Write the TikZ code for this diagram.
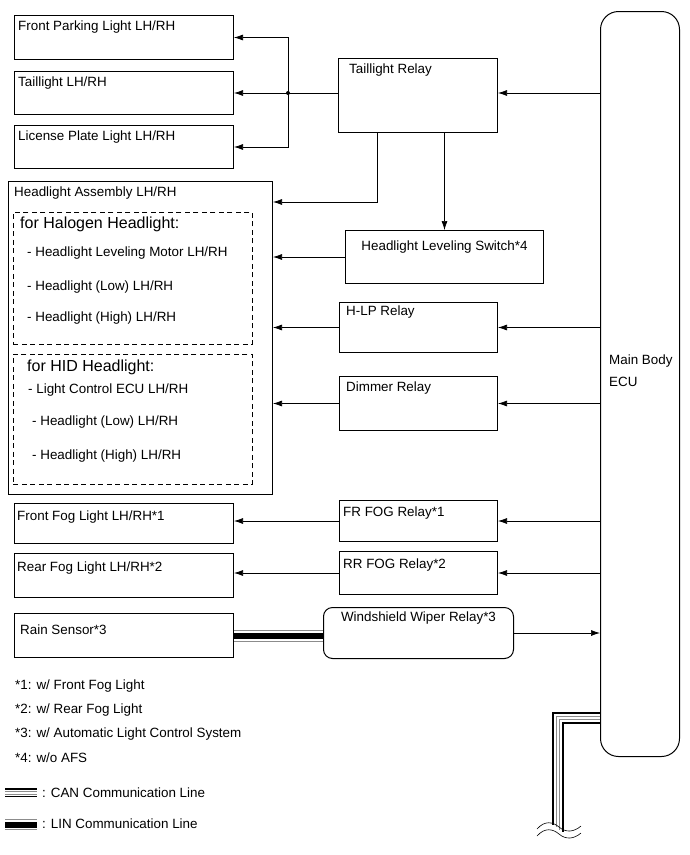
\documentclass[tikz,border=0pt]{standalone}
\usepackage{fontspec}
\setmainfont{Liberation Sans}
\usetikzlibrary{arrows.meta, positioning, calc}

\begin{document}
\begin{tikzpicture}[x=1pt, y=-1pt,
    unit/.style={draw, line width=1pt, anchor=north west, inner sep=0pt},
    grp/.style={draw, line width=0.9pt, dash pattern=on 5pt off 3.5pt, anchor=north west, inner sep=0pt},
    txt/.style={anchor=west, inner sep=0pt, font=\fontsize{13.4}{16}\selectfont},
    bigtxt/.style={anchor=west, inner sep=0pt, font=\fontsize{16}{19}\selectfont},
    sig/.style={draw, line width=0.7pt, -{Latex[length=9pt,width=6pt]}},
    wire/.style={draw, line width=0.7pt}]
    \useasboundingbox (0,0) rectangle (690,855);

    % lamps
    \node[unit, minimum width=219, minimum height=44] (fpark) at (14,15) {};
    \node[txt] (fparkt) at ([shift={(4,12)}]fpark.north west) {Front Parking Light LH/RH};
    \node[unit, minimum width=219, minimum height=43] (tail) at (14,71) {};
    \node[txt] (tailt) at ([shift={(4,12)}]tail.north west) {Taillight LH/RH};
    \node[unit, minimum width=219, minimum height=43] (lic) at (14,125) {};
    \node[txt] (lict) at ([shift={(4,12)}]lic.north west) {License Plate Light LH/RH};

    % headlight assembly
    \node[unit, minimum width=264, minimum height=313] (hasm) at (8,181) {};
    \node[txt] (hasmt) at ([shift={(6,12)}]hasm.north west) {Headlight Assembly LH/RH};
    \node[grp, minimum width=239, minimum height=132] (halo) at (13,212) {};
    \node[bigtxt] (halot) at (20,224) {for Halogen Headlight:};
    \node[txt] (halo1) at (27,253) {- Headlight Leveling Motor LH/RH};
    \node[txt] (halo2) at (27,287) {- Headlight (Low) LH/RH};
    \node[txt] (halo3) at (27,318) {- Headlight (High) LH/RH};
    \node[grp, minimum width=239, minimum height=130] (hid) at (13,354) {};
    \node[bigtxt] (hidt) at (27,367) {for HID Headlight:};
    \node[txt] (hid1) at (28,390) {- Light Control ECU LH/RH};
    \node[txt] (hid2) at (32,422) {- Headlight (Low) LH/RH};
    \node[txt] (hid3) at (32,456) {- Headlight (High) LH/RH};

    % fog lamps, sensor
    \node[unit, minimum width=219, minimum height=40] (ffog) at (14,503) {};
    \node[txt] (ffogt) at ([shift={(3,14)}]ffog.north west) {Front Fog Light LH/RH*1};
    \node[unit, minimum width=219, minimum height=44] (rfog) at (14,553) {};
    \node[txt] (rfogt) at ([shift={(3,15)}]rfog.north west) {Rear Fog Light LH/RH*2};
    \node[unit, minimum width=219, minimum height=44] (rain) at (14,613) {};
    \node[txt] (raint) at ([shift={(6,17)}]rain.north west) {Rain Sensor*3};

    % relays
    \node[unit, minimum width=159, minimum height=74] (trelay) at (338,58) {};
    \node[txt] (trelayt) at ([shift={(11,12)}]trelay.north west) {Taillight Relay};
    \node[unit, minimum width=198, minimum height=53] (hlsw) at (345,230) {};
    \node[txt, anchor=center] (hlswt) at ([yshift=-17pt]hlsw.north) {Headlight Leveling Switch*4};
    \node[unit, minimum width=158, minimum height=50] (hlp) at (339,302) {};
    \node[txt] (hlpt) at ([shift={(7,10)}]hlp.north west) {H-LP Relay};
    \node[unit, minimum width=158, minimum height=54] (dimmer) at (339,376) {};
    \node[txt] (dimmert) at ([shift={(7,12)}]dimmer.north west) {Dimmer Relay};
    \node[unit, minimum width=158, minimum height=41] (frfog) at (339,500) {};
    \node[txt] (frfogt) at ([shift={(4,13)}]frfog.north west) {FR FOG Relay*1};
    \node[unit, minimum width=158, minimum height=43] (rrfog) at (339,551) {};
    \node[txt] (rrfogt) at ([shift={(4,14)}]rrfog.north west) {RR FOG Relay*2};
    \node[unit, rounded corners=9pt, minimum width=190, minimum height=51] (wiper) at (323,607) {};
    \node[txt, anchor=center] (wipert) at ([yshift=-11pt]wiper.north) {Windshield Wiper Relay*3};

    % ecu
    \node[unit, rounded corners=18pt, minimum width=79, minimum height=745] (ecu) at (600,11) {};
    \node[txt, align=left, font=\fontsize{13.4}{22}\selectfont] (ecut) at (609,371) {Main Body\\ECU};

    % connections
    \coordinate (tj) at (288,93);
    \draw[sig] (ecu.west |- tj) -- (trelay.east |- tj);
    \draw[wire] (trelay.west |- tj) -- (tj);
    \draw[sig] (tj) -- (tail.east |- tj);
    \draw[sig] (tj) |- (fpark.east);
    \draw[sig] (tj) |- (lic.east);
    \fill (tj) circle (2pt);
    \draw[sig] ([xshift=-40.5pt]trelay.south) |- ([yshift=-21pt]hasm.north east);
    \draw[sig] (hlsw.north |- trelay.south) -- (hlsw.north);
    \draw[sig] (hlsw.west) -- (hlsw.west -| hasm.east);
    \draw[sig] (ecu.west |- hlp.east) -- (hlp.east);
    \draw[sig] (hlp.west) -- (hlp.west -| hasm.east);
    \draw[sig] (ecu.west |- dimmer.east) -- (dimmer.east);
    \draw[sig] (dimmer.west) -- (dimmer.west -| hasm.east);
    \draw[sig] (ecu.west |- frfog.east) -- (frfog.east);
    \draw[sig] (frfog.west) -- (frfog.west -| ffog.east);
    \draw[sig] (ecu.west |- rrfog.east) -- (rrfog.east);
    \draw[sig] (rrfog.west) -- (rrfog.west -| rfog.east);
    \draw[sig] (wiper.east) -- (wiper.east -| ecu.west);

    % LIN line
    \coordinate (lin1) at (rain.east);
    \coordinate (lin2) at (rain.east -| wiper.west);
    \draw[line width=6pt] (lin1) -- (lin2);
    \draw[black!45, line width=0.7pt] ([yshift=5.5pt]lin1) -- ([yshift=5.5pt]lin2);
    \draw[black!45, line width=0.7pt] ([yshift=-5.5pt]lin1) -- ([yshift=-5.5pt]lin2);

    % CAN line
    \foreach \d/\c/\w in {0/black/1.3, 3.3/black!45/0.7, 6.6/black!45/0.7, 10/black/1.3}
        \draw[\c, line width=\w pt] (600,713+\d) -- (553+\d,713+\d) -- (553+\d,825+0.7*\d);
    \draw[line width=0.6pt] (537,829) .. controls (545,820) and (553,822) .. (559,827) .. controls (566,833) and (574,832) .. (581,826);
    \draw[line width=0.6pt] (537,836) .. controls (545,827) and (553,829) .. (559,834) .. controls (566,840) and (574,839) .. (581,833);

    % notes
    \node[txt] (note1) at (15,686) {*1: w/ Front Fog Light};
    \node[txt] (note2) at (15,710) {*2: w/ Rear Fog Light};
    \node[txt] (note3) at (15,734) {*3: w/ Automatic Light Control System};
    \node[txt] (note4) at (15,758) {*4: w/o AFS};
    \foreach \d/\c/\w in {0/black/1.3, 2.6/black!45/0.7, 5.2/black!45/0.7, 7.8/black/1.3}
        \draw[\c, line width=\w pt] (5,789+\d) -- (37,789+\d);
    \node[txt] (cant) at (42,793) {: CAN Communication Line};
    \draw[black!45, line width=0.7pt] (5,819.5) -- (37,819.5);
    \draw[line width=6pt] (5,824.5) -- (37,824.5);
    \draw[black!45, line width=0.7pt] (5,829.5) -- (37,829.5);
    \node[txt] (lint) at (42,824) {: LIN Communication Line};
\end{tikzpicture}
\end{document}
